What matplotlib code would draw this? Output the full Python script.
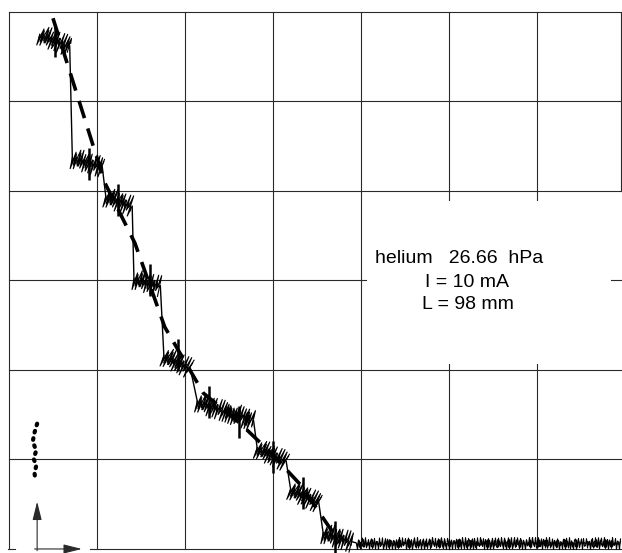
import matplotlib
matplotlib.use("Agg")
import matplotlib.pyplot as plt

# recorder trace, in grid divisions (x: time, y: signal)
# each plateau runs from (x0, y0) to (x1, y1); the drops join them
plateau_x0 = [0.35, 0.72, 1.10, 1.42, 1.76, 2.14, 2.82, 3.20, 3.57, 3.94]
plateau_x1 = [0.69, 1.06, 1.40, 1.72, 2.06, 2.78, 3.15, 3.52, 3.90, 6.94]
plateau_y0 = [5.75, 4.37, 3.94, 3.02, 2.16, 1.65, 1.13, 0.67, 0.18, 0.07]
plateau_y1 = [5.62, 4.27, 3.83, 2.94, 2.02, 1.43, 0.98, 0.52, 0.08, 0.07]

# step marks put on the trace
mark_x = [0.52, 0.91, 1.24, 1.60, 1.92, 2.27, 2.61, 3.00, 3.34, 3.70]
mark_y = [5.68, 4.30, 3.90, 3.01, 2.17, 1.64, 1.42, 1.03, 0.63, 0.13]

# dashed guide drawn through the steps
guide_x = [0.50, 1.09, 1.43, 1.77, 2.21, 2.63, 2.97, 3.31, 3.76]
guide_y = [5.93, 4.09, 3.42, 2.48, 1.74, 1.40, 1.08, 0.72, 0.07]

# small dotted squiggle left of the grid
dots_x = [0.32, 0.29, 0.27, 0.31, 0.28, 0.31, 0.29, 0.30]
dots_y = [1.40, 1.30, 1.20, 1.10, 1.01, 0.93, 0.85, 0.77]

labels = ["helium   26.66  hPa", "I = 10 mA", "L = 98 mm"]

fig = plt.figure(figsize=(6.22, 5.53), dpi=100)
ax = fig.add_axes([0, 0, 1, 1])
ax.set_xlim(-0.102, 6.966)
ax.set_ylim(-0.045, 6.134)
ax.axis("off")

grid_kw = dict(color="#2a2a2a", lw=0.8)

# chart paper grid, with the gaps the recorder paper has
ax.plot([0, 0], [0, 6], **grid_kw)
for k in range(1, 5):
    ax.plot([k, k], [0, 6], **grid_kw)
for k in (5, 6):
    ax.plot([k, k], [3.9, 6], **grid_kw)
    ax.plot([k, k], [0, 2.07], **grid_kw)
ax.plot([6.95, 6.95], [4, 6], **grid_kw)
for k in (1, 2, 4, 5, 6):
    ax.plot([0, 6.97], [k, k], **grid_kw)
ax.plot([0, 4.06], [3, 3], **grid_kw)
ax.plot([6.84, 6.97], [3, 3], **grid_kw)
ax.plot([0.92, 6.97], [0, 0], **grid_kw)

# axis arrows at the bottom left
ax.plot([-0.01, 0.07], [0, 0], **grid_kw)
ax.annotate("", xy=(0.86, 0), xytext=(0.26, 0),
            arrowprops=dict(arrowstyle="-|>,head_length=0.8,head_width=0.2",
                            color="#2a2a2a", lw=0.8, mutation_scale=14))
ax.annotate("", xy=(0.32, 0.56), xytext=(0.32, -0.05),
            arrowprops=dict(arrowstyle="-|>,head_length=0.8,head_width=0.2",
                            color="#2a2a2a", lw=0.8, mutation_scale=14))
ax.plot(dots_x, dots_y, linestyle=(0, (0.4, 1.4)), color="k", lw=3,
        dash_capstyle="round")

# drops between the plateaus (clean pen strokes)
for i in range(len(plateau_x0) - 1):
    ax.plot([plateau_x1[i], plateau_x0[i + 1]], [plateau_y1[i], plateau_y0[i + 1]],
            color="k", lw=1.0)

# noisy plateaus: pen jitter drawn as two overlaid zigzags
last = len(plateau_x0) - 1
for i in range(len(plateau_x0)):
    for amp, wl in ((11, 3.0), (7, 2.3)):
        if i == last:
            amp = amp * 0.55
        ln, = ax.plot([plateau_x0[i], plateau_x1[i]], [plateau_y0[i], plateau_y1[i]],
                      color="k", lw=0.8)
        ln.set_sketch_params(scale=amp, length=wl, randomness=1.3)

ax.plot(guide_x, guide_y, color="k", lw=2.6, linestyle=(0, (5, 3)))
ax.plot(mark_x, mark_y, linestyle="none", marker="|", markersize=23,
        markeredgewidth=1.8, color="k")

# run conditions
text_kw = dict(ha="center", va="center", fontsize=14, family="Liberation Sans")
ax.text(5.12, 3.25, labels[0], **text_kw)
ax.text(5.2, 2.98, labels[1], **text_kw)
ax.text(5.21, 2.73, labels[2], **text_kw)

fig.savefig("out.png", dpi=100)
